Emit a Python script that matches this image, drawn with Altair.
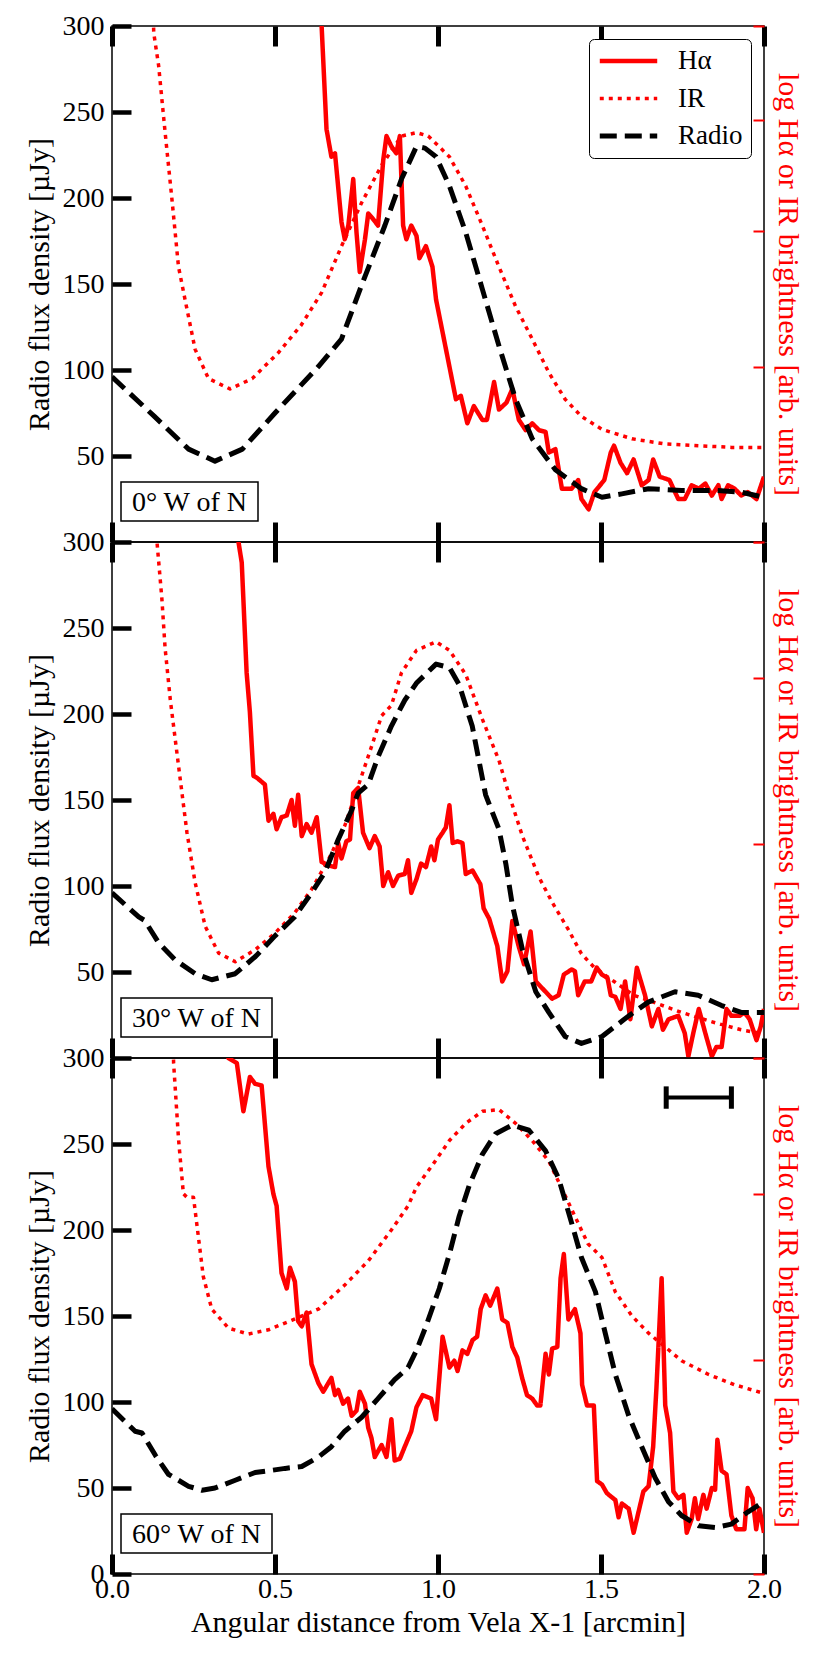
import altair as alt
import pandas as pd

# ---------------- data ----------------
x_ticks = [0.0, 0.5, 1.0, 1.5, 2.0]
series_names = ["Hα", "IR", "Radio"]
series_colors = ["#ff0000", "#ff0000", "#000000"]
panel_labels = ["0° W of N", "30° W of N", "60° W of N"]
right_tick_values = [[3, 4, 5, 6, 7], [3, 4, 5, 6], [3, 4, 5, 6]]
right_domains = [[3, 7], [3, 6], [3, 6]]
scalebar_x = [1.70, 1.90]
scalebar_y = 277
scalebar_cap = 6.5

# Panel 1 (0 deg W of N)
p1_radio_x = [0.0, 0.13, 0.235, 0.316, 0.40, 0.5, 0.633, 0.704, 0.765, 0.837, 0.888, 0.934, 0.96, 0.994,
              1.035, 1.085, 1.136, 1.187, 1.238, 1.289, 1.36, 1.44, 1.503, 1.564, 1.646, 1.747, 1.85, 1.93, 2.0]
p1_radio_y = [96, 73, 54, 47, 54, 75, 102, 118, 149, 184, 211, 230, 229, 224,
              207, 180, 147, 114, 83, 60, 42, 31, 26, 28, 31, 30, 30, 29, 26]
p1_ir_x = [0.125, 0.128, 0.143, 0.163, 0.184, 0.204, 0.224, 0.255, 0.296, 0.362, 0.43, 0.51, 0.58, 0.643,
           0.704, 0.765, 0.827, 0.888, 0.934, 0.97, 1.035, 1.085, 1.136, 1.187, 1.238, 1.289, 1.34, 1.39,
           1.44, 1.503, 1.595, 1.697, 1.80, 1.90, 2.0]
p1_ir_y = [320, 296, 277, 238, 199, 160, 141, 112, 95, 89, 95, 110, 126, 145,
           172, 197, 219, 236, 238, 236, 224, 207, 184, 160, 137, 118, 98.5, 83,
           73, 65.5, 60, 57, 56, 55, 55]
p1_ha_x = [0.640, 0.643, 0.658, 0.673, 0.684, 0.704, 0.714, 0.725, 0.74, 0.75, 0.76, 0.776, 0.786, 0.80,
           0.816, 0.832, 0.842, 0.857, 0.872, 0.883, 0.893, 0.903, 0.918, 0.934, 0.943, 0.963, 0.983,
           0.994, 1.014, 1.035, 1.055, 1.07, 1.09, 1.11, 1.136, 1.15, 1.172, 1.187, 1.21, 1.228, 1.248,
           1.269, 1.289, 1.31, 1.33, 1.34, 1.36, 1.38, 1.41, 1.43, 1.44, 1.462, 1.48, 1.51, 1.53, 1.54,
           1.56, 1.58, 1.60, 1.625, 1.646, 1.66, 1.68, 1.71, 1.737, 1.757, 1.778, 1.80, 1.82, 1.84,
           1.86, 1.87, 1.89, 1.91, 1.93, 1.95, 1.977, 2.0]
p1_ha_y = [330, 300, 240, 224, 226, 186, 176, 184, 211, 180, 157, 176, 191, 188,
           184, 222, 236, 230, 226, 236, 184, 176, 184, 178, 165, 172, 160,
           141, 122, 102, 83, 85, 69, 79, 71, 71, 93, 77, 81, 89, 71,
           65, 69, 65, 64, 52, 54, 31, 31, 36, 25, 19, 29, 36, 52, 56,
           46, 40, 48, 33, 36, 48, 38, 36, 25, 25, 33, 31, 34, 27,
           33, 25, 33, 31, 27, 29, 25, 38]

# Panel 2 (30 deg W of N)
p2_radio_x = [0.0, 0.082, 0.1, 0.143, 0.194, 0.255, 0.306, 0.378, 0.44, 0.5, 0.56, 0.612, 0.653, 0.694,
              0.735, 0.755, 0.786, 0.816, 0.857, 0.898, 0.934, 0.994, 1.035, 1.065, 1.105, 1.146, 1.187,
              1.208, 1.228, 1.259, 1.30, 1.34, 1.39, 1.44, 1.503, 1.585, 1.645, 1.727, 1.798, 1.87, 1.93, 2.0]
p2_radio_y = [96, 82, 80, 67, 57, 49, 45.5, 49, 59, 71, 82, 96, 108, 127,
              144, 154, 159, 175, 193, 208, 218, 229, 227, 217, 193, 153, 133,
              113, 89, 63, 38.5, 26.5, 12.5, 8.5, 12.5, 24.5, 32.5, 38.5, 36.5, 30.5, 26.5, 26.5]
p2_ir_x = [0.135, 0.138, 0.153, 0.163, 0.179, 0.204, 0.23, 0.255, 0.286, 0.327, 0.378, 0.44, 0.5, 0.56,
           0.612, 0.663, 0.714, 0.755, 0.796, 0.827, 0.857, 0.888, 0.934, 0.994, 1.035, 1.085, 1.136,
           1.187, 1.218, 1.259, 1.31, 1.35, 1.40, 1.44, 1.48, 1.54, 1.60, 1.66, 1.747, 1.85, 1.93, 2.0]
p2_ir_y = [320, 300, 267, 238, 208, 170, 131, 102, 76.5, 61, 56, 63, 72.6, 84.3,
           98, 115, 135, 158, 181, 199, 205, 224, 237, 242, 237, 223, 197,
           173, 153, 129, 105, 90.6, 74.6, 60.6, 52.5, 44.5, 36.5, 32.5, 26.5, 20.5, 16.4, 14]
p2_ha_x = [0.385, 0.388, 0.398, 0.413, 0.423, 0.434, 0.444, 0.469, 0.48, 0.495, 0.505, 0.52, 0.536, 0.551,
           0.561, 0.571, 0.582, 0.597, 0.612, 0.628, 0.643, 0.663, 0.684, 0.694, 0.704, 0.719, 0.73,
           0.74, 0.755, 0.77, 0.79, 0.806, 0.821, 0.832, 0.847, 0.862, 0.878, 0.898, 0.908, 0.918,
           0.934, 0.948, 0.963, 0.979, 0.989, 1.0, 1.014, 1.024, 1.035, 1.045, 1.06, 1.075, 1.085,
           1.106, 1.13, 1.14, 1.157, 1.182, 1.197, 1.213, 1.228, 1.248, 1.264, 1.284, 1.30, 1.32,
           1.34, 1.35, 1.37, 1.386, 1.41, 1.42, 1.43, 1.45, 1.47, 1.487, 1.503, 1.52, 1.53, 1.544,
           1.56, 1.574, 1.59, 1.61, 1.635, 1.656, 1.676, 1.69, 1.707, 1.737, 1.757, 1.768, 1.783,
           1.80, 1.82, 1.84, 1.854, 1.87, 1.885, 1.90, 1.925, 1.94, 1.956, 1.977, 1.99, 2.0]
p2_ha_y = [330, 300, 288, 224, 201, 164, 163, 159, 138, 142, 133, 140, 141, 150,
           135, 153, 129, 136, 131, 140, 114, 112, 111, 125, 116, 126, 127,
           154, 157, 131, 122, 129, 123, 100, 108, 100, 106, 107, 115, 96,
           104, 113, 111, 123, 115, 127, 131, 134, 147, 125, 126, 125, 107,
           109, 101, 87, 81, 65, 44.5, 50.5, 79.6, 64.6, 54.5, 73.6, 44.5, 40.5,
           36.5, 34.5, 36.5, 48.5, 51.5, 50.5, 36.5, 44.5, 44.5, 52.5, 48.5, 46.5, 36.5, 35.5,
           28.5, 44.5, 22.5, 52.5, 36.5, 18.4, 28.5, 16.4, 22.5, 24.5, 14.4, 1, 14.4,
           28.5, 14.4, 1, 6.4, 6.4, 28.5, 24.5, 24.5, 26.5, 22.5, 10.4, 18.4, 28.5]

# Panel 3 (60 deg W of N)
p3_radio_x = [0.0, 0.071, 0.092, 0.133, 0.173, 0.235, 0.276, 0.316, 0.378, 0.439, 0.48, 0.531, 0.582,
              0.633, 0.673, 0.714, 0.765, 0.816, 0.867, 0.908, 0.934, 0.963, 1.004, 1.035, 1.065, 1.096,
              1.136, 1.177, 1.228, 1.279, 1.33, 1.37, 1.41, 1.44, 1.483, 1.513, 1.544, 1.585, 1.625,
              1.666, 1.707, 1.747, 1.80, 1.85, 1.90, 1.95, 2.0]
p3_radio_y = [96, 83, 82, 69, 58, 51, 48.7, 50, 54.5, 59, 60, 61.4, 62.5,
              68, 74, 83, 91, 102, 113, 120, 130, 144, 166, 186, 208, 226,
              244, 256, 261, 258, 246, 230, 204, 184, 164, 140, 116, 92, 74,
              56, 42, 34, 28, 27, 29, 36, 42]
p3_ir_x = [0.186, 0.189, 0.204, 0.219, 0.23, 0.25, 0.265, 0.28, 0.306, 0.357, 0.418, 0.48, 0.551, 0.633,
           0.714, 0.786, 0.857, 0.908, 0.934, 0.984, 1.035, 1.085, 1.136, 1.187, 1.238, 1.289, 1.34,
           1.38, 1.42, 1.46, 1.503, 1.544, 1.595, 1.646, 1.697, 1.747, 1.83, 1.91, 2.0]
p3_ir_y = [320, 297, 253, 221, 219, 219, 196, 173, 154, 143, 139.5, 142, 147.5, 154,
           168, 182, 200, 214, 225, 238, 252, 262, 269, 270, 262, 252, 240,
           224, 208, 192, 184, 164, 150, 140, 132, 124, 116, 110, 105]
p3_ha_x = [0.350, 0.357, 0.383, 0.403, 0.423, 0.439, 0.459, 0.48, 0.495, 0.505, 0.52, 0.536, 0.546, 0.561,
           0.571, 0.582, 0.597, 0.612, 0.633, 0.648, 0.673, 0.684, 0.694, 0.709, 0.724, 0.735, 0.75,
           0.76, 0.776, 0.786, 0.796, 0.806, 0.827, 0.842, 0.857, 0.867, 0.883, 0.898, 0.918, 0.934,
           0.953, 0.979, 0.994, 1.014, 1.035, 1.05, 1.06, 1.075, 1.09, 1.106, 1.12, 1.131, 1.146,
           1.16, 1.182, 1.197, 1.213, 1.228, 1.243, 1.258, 1.273, 1.289, 1.304, 1.314, 1.33, 1.34,
           1.35, 1.366, 1.376, 1.386, 1.40, 1.42, 1.437, 1.442, 1.457, 1.478, 1.488, 1.503, 1.518,
           1.544, 1.554, 1.564, 1.585, 1.60, 1.615, 1.63, 1.646, 1.66, 1.67, 1.686, 1.697, 1.712,
           1.722, 1.737, 1.753, 1.763, 1.778, 1.788, 1.798, 1.814, 1.824, 1.84, 1.85, 1.857, 1.87,
           1.885, 1.90, 1.915, 1.94, 1.95, 1.965, 1.976, 1.986, 2.0]
p3_ha_y = [320, 300, 297, 269, 289, 285, 284, 237, 221, 214, 175, 166, 178, 170,
           147, 144, 152, 122, 111, 106, 114, 104, 107, 99, 102, 92, 95,
           106, 99, 85, 79, 68, 75, 68, 90, 66, 67, 74, 83, 97,
           104, 102, 90, 138, 120, 124, 118, 130, 128, 136, 138, 154, 162,
           156, 166, 148, 146, 132, 126, 114, 104, 102, 98, 98, 128, 116,
           131, 132, 172, 186, 148, 154, 140, 110, 98, 98, 54, 52, 47,
           43, 33, 41, 38, 24, 36, 48, 51, 74, 108, 172, 98, 82,
           48, 44, 46, 24, 32, 44, 32, 46, 38, 50, 49, 78, 60,
           58, 34, 26, 26, 50, 44, 26, 38, 24]

panels = [
    {"Hα": (p1_ha_x, p1_ha_y), "IR": (p1_ir_x, p1_ir_y), "Radio": (p1_radio_x, p1_radio_y)},
    {"Hα": (p2_ha_x, p2_ha_y), "IR": (p2_ir_x, p2_ir_y), "Radio": (p2_radio_x, p2_radio_y)},
    {"Hα": (p3_ha_x, p3_ha_y), "IR": (p3_ir_x, p3_ir_y), "Radio": (p3_radio_x, p3_radio_y)},
]

# ---------------- style ----------------
FONT = "Liberation Serif"
LFS = 28   # tick labels / panel labels
TFS = 30   # axis titles
GFS = 27   # legend labels
W, H = 652, 516

xscale = alt.Scale(domain=[0, 2], nice=False, zero=False)
yscale = alt.Scale(domain=[0, 300], nice=False)

legend = alt.Legend(
    title=None, orient="top-right", offset=13, padding=8,
    strokeColor="black", cornerRadius=5, fillColor="white",
    labelFont=FONT, labelFontSize=GFS, labelColor="black", labelLimit=0,
    symbolType="stroke", symbolSize=3300, clipHeight=28, rowPadding=9.5, labelOffset=18,
)


def make_panel(i):
    rows = []
    for s in series_names:
        xs, ys = panels[i][s]
        for xv, yv in zip(xs, ys):
            rows.append({"series": s, "x": xv, "y": yv})
    df = pd.DataFrame(rows)
    last = i == 2

    bottom_axis = alt.Axis(
        values=x_ticks, format=".1f", labels=last,
        title="Angular distance from Vela X-1 [arcmin]" if last else None,
        domain=False, grid=False, tickSize=20, tickWidth=5, tickColor="black", offset=-20,
        labelFont=FONT, labelFontSize=LFS, labelColor="black", labelPadding=1,
        labelFlush=False, labelOverlap=False,
        titleFont=FONT, titleFontSize=TFS, titleFontWeight="normal", titleColor="black", titlePadding=4,
    )
    left_axis = alt.Axis(
        values=[0, 50, 100, 150, 200, 250, 300] if last else [50, 100, 150, 200, 250, 300],
        domain=False, grid=False, tickSize=19, tickWidth=4.5, tickColor="black", offset=-19,
        labelFont=FONT, labelFontSize=LFS, labelColor="black", labelPadding=8,
        labelOverlap=False, labelFlush=False,
        title="Radio flux density [µJy]",
        titleFont=FONT, titleFontSize=TFS, titleFontWeight="normal", titleColor="black", titlePadding=8,
    )
    leg = legend if i == 0 else None

    lines = alt.Chart(df).mark_line(clip=True, strokeCap="butt", strokeJoin="round").encode(
        x=alt.X("x:Q", scale=xscale, axis=bottom_axis),
        y=alt.Y("y:Q", scale=yscale, axis=left_axis),
        color=alt.Color("series:O", scale=alt.Scale(domain=series_names, range=series_colors), legend=leg),
        strokeDash=alt.StrokeDash("series:O", scale=alt.Scale(domain=series_names, range=[[1, 0], [4, 5], [17, 8]]), legend=leg),
        strokeWidth=alt.StrokeWidth("series:O", scale=alt.Scale(type="ordinal", domain=series_names, range=[4.5, 3.5, 5]), legend=leg),
    )

    label_df = pd.DataFrame({"label": [panel_labels[i]]})
    box_w = 137 if i == 0 else 151
    box = alt.Chart(label_df).mark_rect(fill="white", stroke="black", strokeWidth=1.5).encode(
        x=alt.value(9), x2=alt.value(9 + box_w), y=alt.value(456), y2=alt.value(495)
    )
    txt = alt.Chart(label_df).mark_text(font=FONT, fontSize=LFS, align="center", baseline="middle", color="black").encode(
        x=alt.value(9 + box_w / 2), y=alt.value(477), text="label:N"
    )
    layers = [lines, box, txt]

    if last:
        sb = pd.DataFrame({"x": [scalebar_x[0]], "x2": [scalebar_x[1]], "y": [scalebar_y]})
        bar = alt.Chart(sb).mark_rule(color="black", strokeWidth=4).encode(
            x=alt.X("x:Q", scale=xscale), x2="x2:Q", y=alt.Y("y:Q", scale=yscale)
        )
        caps_df = pd.DataFrame({"x": scalebar_x,
                                "y1": [scalebar_y - scalebar_cap] * 2,
                                "y2": [scalebar_y + scalebar_cap] * 2})
        caps = alt.Chart(caps_df).mark_rule(color="black", strokeWidth=5).encode(
            x=alt.X("x:Q", scale=xscale), y=alt.Y("y1:Q", scale=yscale), y2="y2:Q"
        )
        layers += [bar, caps]

    inner = alt.layer(*layers)

    ax_df = pd.DataFrame({"x": [1.0], "r": [right_domains[i][0]]})
    top_axis = alt.Axis(orient="top", values=x_ticks, labels=False, title=None, domain=False, grid=False,
                        tickSize=20, tickWidth=5, tickColor="black", offset=-20)
    right_axis = alt.Axis(orient="right", values=right_tick_values[i], labels=False, domain=False, grid=False,
                          tickSize=11, tickWidth=2, tickColor="#ff0000", offset=-11,
                          title="log Hα or IR brightness [arb. units]",
                          titleFont=FONT, titleFontSize=TFS, titleFontWeight="normal",
                          titleColor="#ff0000", titlePadding=7)
    axis_layer = alt.Chart(ax_df).mark_point(opacity=0).encode(
        x=alt.X("x:Q", scale=xscale, axis=top_axis),
        y=alt.Y("r:Q", scale=alt.Scale(type="log", domain=right_domains[i], nice=False), axis=right_axis),
    )

    return alt.layer(inner, axis_layer).resolve_scale(y="independent").resolve_axis(
        x="independent", y="independent"
    ).properties(width=W, height=H)


chart = alt.vconcat(make_panel(0), make_panel(1), make_panel(2), spacing=0, bounds="flush").resolve_legend(
    color="independent", strokeDash="independent", strokeWidth="independent"
).properties(
    padding={"left": 15, "top": 3, "right": 5, "bottom": 2}
).configure(
    font=FONT, background="white"
).configure_axis(
    labelFont=FONT, titleFont=FONT
).configure_legend(
    labelFont=FONT
).configure_text(font=FONT).configure_view(stroke="black", strokeWidth=1.5)

chart.save("out.html", embed_options={"renderer": "svg", "actions": False})
